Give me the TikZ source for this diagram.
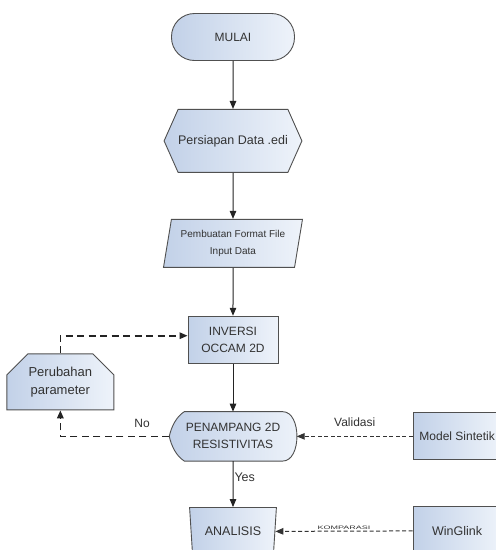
\documentclass[tikz,border=0pt]{standalone}
\usepackage{fontspec}
\setmainfont{Liberation Sans}
\usetikzlibrary{shapes.geometric,shapes.misc,shapes.symbols,arrows.meta,positioning,backgrounds}
\definecolor{fillleft}{RGB}{194,209,232}
\definecolor{fillright}{RGB}{238,243,250}
\definecolor{edgegray}{RGB}{80,80,80}
\definecolor{txtgray}{RGB}{50,50,50}
\definecolor{linedark}{RGB}{35,35,35}
\newcommand{\fsz}[2]{\fontsize{#1}{#2}\selectfont}
\tikzset{
  flowfill/.style={left color=fillleft,right color=fillright,draw=edgegray,line width=0.9pt},
  box/.style={rectangle,flowfill,text=txtgray,align=center,inner sep=2pt,
              minimum width=90pt,minimum height=47pt},
  term/.style={box,rounded corners=23pt,minimum width=123pt},
  prep/.style={box,signal,signal to=east and west,signal pointer angle=132,inner xsep=0pt,
               minimum width=105pt,minimum height=63pt},
  io/.style={box,trapezium,trapezium stretches=true,trapezium left angle=77,
             trapezium right angle=103,minimum width=139pt,minimum height=48pt},
  loopbox/.style={box,chamfered rectangle,chamfered rectangle corners={north west,north east},
                  chamfered rectangle xsep=10pt,chamfered rectangle ysep=11pt,
                  minimum width=107pt,minimum height=48pt},
  manual/.style={box,trapezium,trapezium stretches=true,shape border rotate=180,
                 trapezium left angle=80,trapezium right angle=80,
                 minimum width=87pt,minimum height=48pt},
  disp/.style={rectangle,text=txtgray,align=center,inner sep=2pt,
               minimum width=127pt,minimum height=49pt},
  fl/.style={-{Triangle[length=8pt,width=6.5pt]},draw=linedark,line width=1pt},
  loopfl/.style={fl,line width=1.6pt,dash pattern=on 7pt off 4.5pt},
  reffl/.style={fl,draw=gray!40!black,dash pattern=on 4pt off 2.5pt},
}
\begin{document}
\begin{tikzpicture}[x=1pt,y=1pt,every node/.style={font=\fsz{12}{17},text=txtgray}]
  \useasboundingbox (0,0) rectangle (496,-550);
  \node[term] (start) at (233,-37) {MULAI};
  \node[prep,below=48pt of start,font=\fsz{12.5}{16}] (data) {Persiapan Data .edi};
  \node[io,below=46pt of data,font=\fsz{10}{17}] (fmt) {Pembuatan Format File\\Input Data};
  \node[box,below=48pt of fmt] (inv) {INVERSI\\OCCAM 2D};
  \node[disp,below=48pt of inv] (sec) {PENAMPANG 2D\\RESISTIVITAS};
  \node[manual,below=46pt of sec,font=\fsz{12.5}{17}] (ana) {ANALISIS};
  \node[box,right=116pt of sec,minimum width=88pt] (model) {Model Sintetik};
  \node[box,below=46pt of model,minimum width=88pt,minimum height=48pt,font=\fsz{12.5}{17}] (wgl) {WinGlink};
  \node[loopbox,left=55pt of sec,yshift=54.5pt,font=\fsz{13}{18}] (par) {Perubahan\\parameter};
  % outline of the display shape
  \begin{scope}[on background layer]
    \path[flowfill] ([xshift=15pt]sec.north west) -- ([xshift=-14pt]sec.north east)
      .. controls ([xshift=5pt]sec.north east) and ([xshift=5pt]sec.south east) .. ([xshift=-14pt]sec.south east)
      -- ([xshift=15pt]sec.south west)
      .. controls ([xshift=7pt,yshift=5pt]sec.south west) and ([xshift=2pt,yshift=-9.5pt]sec.west) .. (sec.west)
      .. controls ([xshift=2pt,yshift=9.5pt]sec.west) and ([xshift=7pt,yshift=-5pt]sec.north west) .. cycle;
  \end{scope}
  \draw[fl] (start) -- (data);
  \draw[fl] (data) -- (fmt);
  \draw[fl] (fmt) -- (inv);
  \draw[fl] (inv) -- (sec);
  \draw[fl] (sec) -- node[right,pos=0.35,inner sep=1pt,font=\fsz{12.5}{17}]{Yes} (ana);
  \draw[loopfl] (sec.west) -| node[pos=0.125,above=5pt]{No} (par.south);
  \draw[loopfl] (par.north) |- ([yshift=4pt]inv.west);
  \draw[reffl] (model) -- node[above=6pt]{Validasi} (sec);
  \draw[reffl] (wgl) -- node[above=1pt,inner sep=0.5pt,font=\fsz{5}{6},xscale=1.8]{KOMPARASI} (ana);
\end{tikzpicture}
\end{document}
